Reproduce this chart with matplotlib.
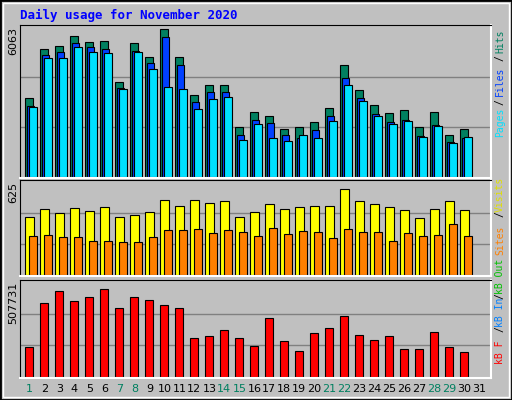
import matplotlib

matplotlib.use("Agg")
import matplotlib.pyplot as plt
import numpy as np
from matplotlib.patches import Rectangle

# values (day 1..30, day 31 empty)
days = np.arange(1, 31)
hits = np.array([235, 382, 391, 421, 403, 406, 283, 400, 358, 442, 358, 244, 274, 274, 148,
                 193, 181, 142, 148, 163, 205, 334, 259, 214, 190, 199, 148, 193, 124, 142]) * 13.47
files = np.array([211, 364, 373, 400, 388, 382, 265, 376, 340, 418, 334, 223, 253, 253, 124,
                  169, 160, 124, 115, 139, 181, 295, 235, 187, 163, 169, 121, 154, 103, 115]) * 13.47
pages = np.array([208, 355, 355, 388, 373, 370, 262, 373, 322, 268, 262, 202, 232, 238, 109,
                  157, 115, 106, 124, 115, 166, 274, 226, 181, 157, 166, 118, 151, 100, 118]) * 13.47
visits = np.array([185, 209, 197, 212, 203, 218, 185, 191, 200, 239, 221, 239, 230, 236, 185,
                   200, 227, 209, 218, 221, 221, 275, 236, 227, 218, 206, 182, 209, 236, 206]) * 625 / 297
sites = np.array([125, 128, 122, 122, 110, 110, 107, 107, 122, 143, 143, 146, 134, 143, 137,
                  125, 149, 131, 140, 137, 119, 146, 137, 137, 110, 134, 125, 128, 164, 125]) * 625 / 297
kbytes = np.array([94, 232, 268, 238, 250, 274, 214, 250, 241, 223, 214, 121, 127, 148, 121,
                   97, 184, 112, 82, 136, 154, 190, 130, 115, 127, 88, 88, 142, 94, 79]) * 507731 / 297
day_labels = [str(d) for d in range(1, 32)]
weekend = {1, 7, 8, 14, 15, 21, 22, 28, 29}
maxes = [6063, 625, 507731]

W, H = 512, 400
BG = "#c0c0c0"
fig = plt.figure(figsize=(W / 100, H / 100), dpi=100)
fig.patch.set_facecolor(BG)


def fx(px):
    return px / W


def fy(py):
    return 1 - py / H


# outer border
fig.patches.append(Rectangle((0, 0), 1, 1, transform=fig.transFigure, fill=False,
                             edgecolor="black", linewidth=2))
fig.patches.append(Rectangle((fx(3), fy(397)), fx(506), 394 / H, transform=fig.transFigure,
                             fill=False, edgecolor="white", linewidth=1))

mono = "DejaVu Sans Mono"
fig.text(fx(20), fy(15), "Daily usage for November 2020", color="#0000ff", fontsize=9,
         fontweight="bold", family=mono, va="center")

x0 = 1 - 5.3 / 15
x1 = x0 + 470.7 / 15
panels = [(25, 178), (180, 276), (280, 378)]
axes = []
for (top, bot), m in zip(panels, maxes):
    ax = fig.add_axes([fx(20), fy(bot), fx(470.7), (bot - top) / H])
    ax.set_facecolor(BG)
    ax.set_xlim(x0, x1)
    span = bot - top
    ax.set_ylim(-1.3 / 150 * m, m * (span - 1.3) / (span - 3))
    for f in (1 / 3, 2 / 3):
        ax.axhline(m * f, color="#808080", linewidth=1, zorder=0)
    ax.set_xticks([])
    ax.set_yticks([])
    for side in ("top", "left"):
        ax.spines[side].set_color("black")
    for side in ("bottom", "right"):
        ax.spines[side].set_color("white")
        ax.spines[side].set_linewidth(1.5)
    axes.append(ax)

kw = dict(align="edge", edgecolor="black", linewidth=0.8)
axes[0].bar(days, hits, 0.49, color="#008060", **kw)
axes[0].bar(days + 0.09, files, 0.49, color="#0040ff", **kw)
axes[0].bar(days + 0.27, pages, 0.49, color="#00e0ff", **kw)
axes[1].bar(days, visits, 0.56, color="#ffff00", **kw)
axes[1].bar(days + 0.27, sites, 0.49, color="#ff8000", **kw)
axes[2].bar(days, kbytes, 0.53, color="#ff0000", **kw)

# max labels on the left
for (top, bot), m in zip(panels, maxes):
    fig.text(fx(13), fy(top + 2), str(m), rotation=90, fontsize=8, family="DejaVu Sans",
             ha="center", va="top")

# right-hand legends (centre y in pixels)
legends = [
    [("Hits", "#008060", 41), ("/", "black", 58), ("Files", "#0040ff", 81), ("/", "black", 102),
     ("Pages", "#00e0ff", 122)],
    [("Visits", "#e0e000", 194), ("/", "black", 214), ("Sites", "#ff8000", 240)],
    [("kB Out", "#00c000", 276), ("/", "black", 296), ("kB In", "#0080ff", 312),
     ("/", "black", 329), ("kB F", "#ff0000", 352)],
]
for group in legends:
    for txt, col, y in group:
        fig.text(fx(500), fy(y), txt, rotation=90, color=col, fontsize=7, family=mono,
                 ha="center", va="center")

# day labels
for i, lab in enumerate(day_labels):
    d = i + 1
    px = 20 + (d - x0 + 0.27) * 15
    fig.text(fx(px), fy(389), lab, color="#008060" if d in weekend else "black", fontsize=8,
             family="DejaVu Sans", ha="center", va="center")

fig.savefig("out.png", dpi=100, facecolor=BG)
